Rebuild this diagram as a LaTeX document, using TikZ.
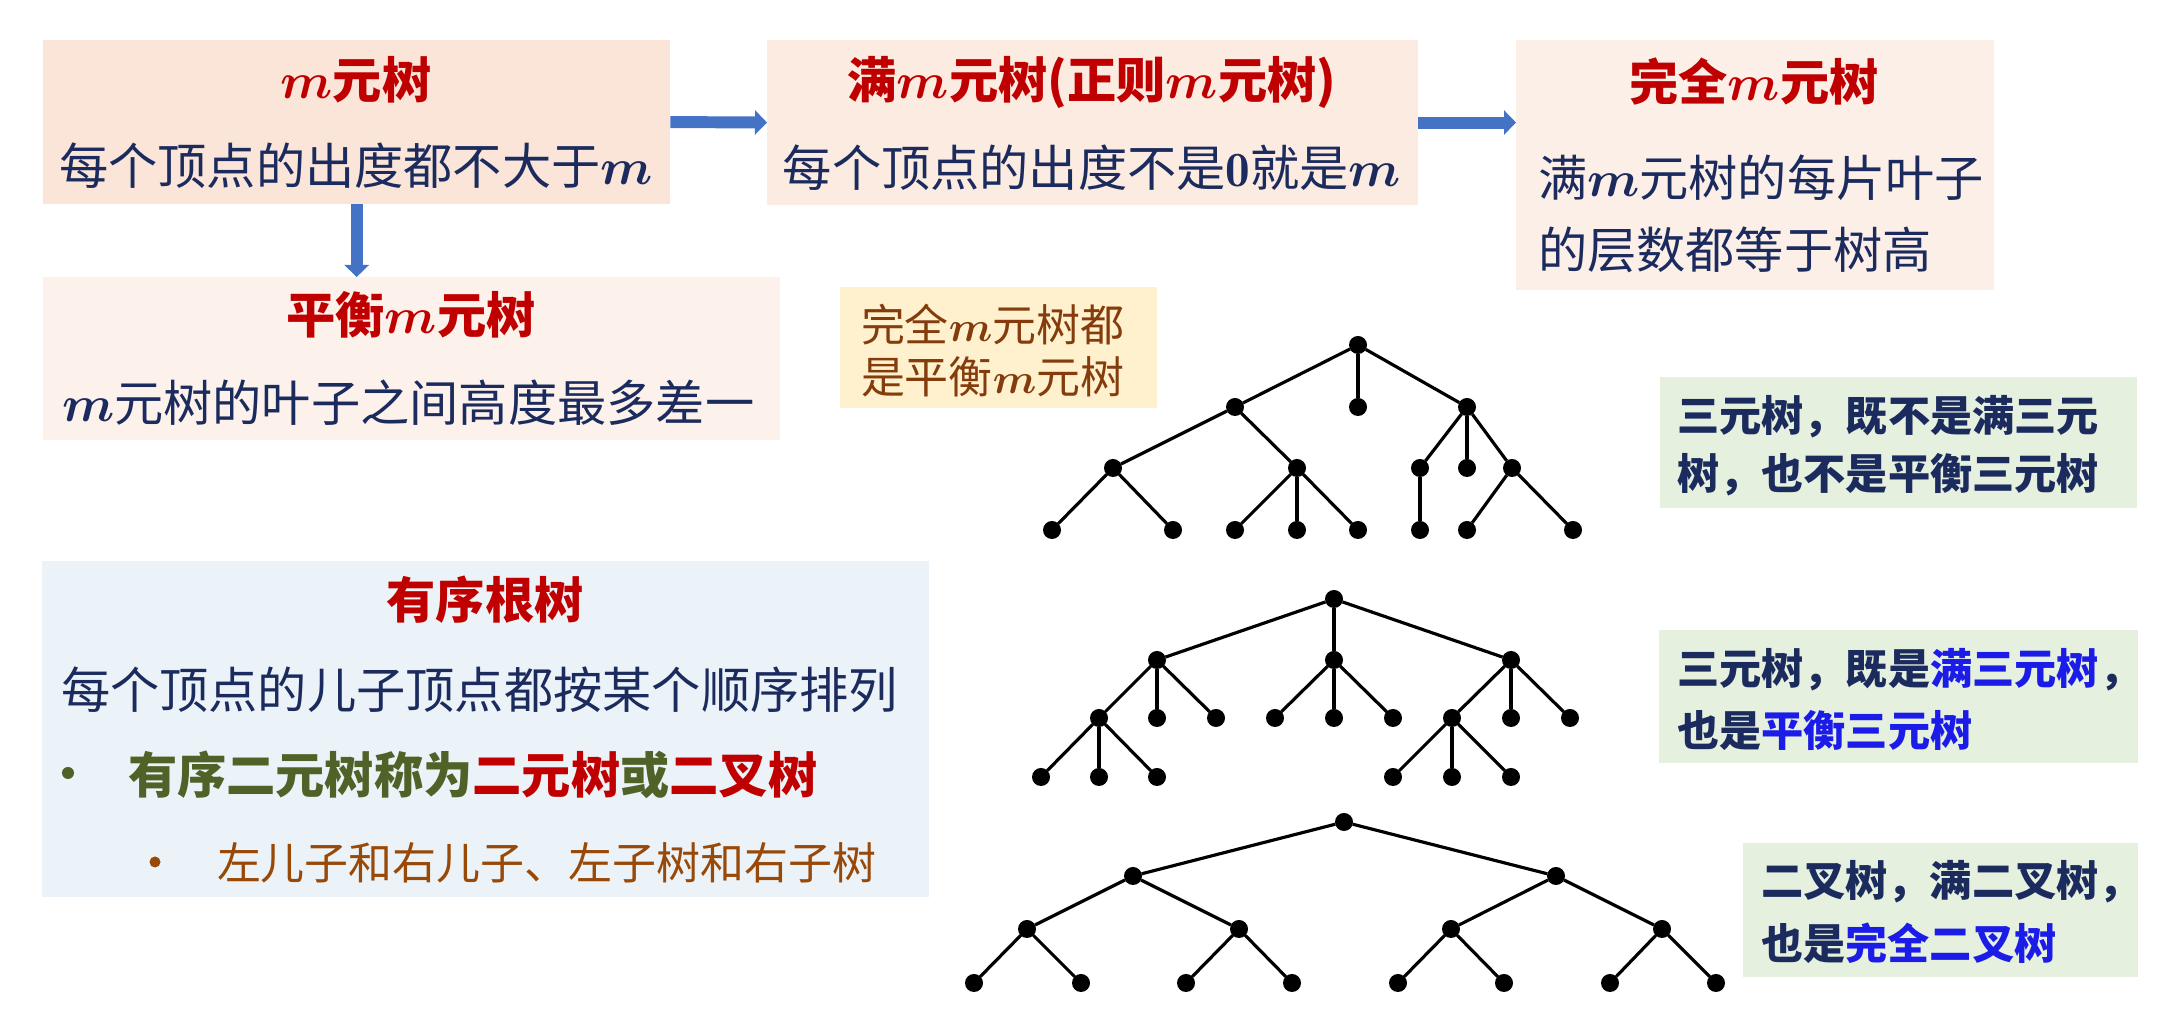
\documentclass[tikz,border=0pt]{standalone}
\usepackage{fontspec}
\usepackage{amsmath}
\newfontfamily\cjk{Noto Sans CJK SC}
\usetikzlibrary{arrows.meta}
\definecolor{tred}{HTML}{C00000}
\definecolor{tnavy}{HTML}{1B2B5E}
\definecolor{tbrown}{HTML}{843C0C}
\definecolor{tgreen}{HTML}{4F6228}
\definecolor{torange}{HTML}{984807}
\definecolor{tblue}{HTML}{1C1CE8}
\definecolor{arrblue}{HTML}{4472C4}
\definecolor{peachA}{HTML}{FAE5D8}
\definecolor{peachB}{HTML}{FCEBE1}
\definecolor{peachC}{HTML}{FCEFE8}
\definecolor{peachD}{HTML}{FDF2EB}
\definecolor{creamE}{HTML}{FFF1CE}
\definecolor{blueF}{HTML}{ECF3F8}
\definecolor{greenG}{HTML}{E6F0DE}
\newcommand\mv{$\boldsymbol{m}$}

\begin{document}
\begin{tikzpicture}
  [x=0.01cm,y=-0.01cm,
   every node/.style={inner sep=0,outer sep=0,font=\cjk},
   box/.style={anchor=north west},
   title/.style={text=tred,font=\cjk\bfseries\fontsize{14}{16}\selectfont},
   body/.style={text=tnavy,font=\cjk\fontsize{14}{16}\selectfont},
   note/.style={text=tnavy,font=\cjk\bfseries\fontsize{12}{14}\selectfont,anchor=west},
   dot/.style={circle,fill=black,minimum size=0.18cm},
   bullet/.style={circle,minimum size=0.12cm},
   edge/.style={line width=0.9pt},
   barrow/.style={draw=arrblue,line width=3.4pt,-{Triangle[length=0.12cm,width=0.24cm]}}]
  \useasboundingbox (0,0) rectangle (2162,1022);

  \node[box,fill=peachA,minimum width=6.27cm,minimum height=1.64cm] (mt) at (43,40) {};
  \node[box,fill=peachB,minimum width=6.51cm,minimum height=1.65cm] (fmt) at (767,40) {};
  \node[box,fill=peachC,minimum width=4.78cm,minimum height=2.50cm] (cmt) at (1516,40) {};
  \node[box,fill=peachD,minimum width=7.37cm,minimum height=1.63cm] (bmt) at (43,277) {};
  \node[box,fill=creamE,minimum width=3.17cm,minimum height=1.21cm] (rem) at (840,287) {};
  \node[box,fill=blueF,minimum width=8.86cm,minimum height=3.36cm] (ord) at (42,561) {};
  \node[box,fill=greenG,minimum width=4.77cm,minimum height=1.31cm] (ga) at (1660,377) {};
  \node[box,fill=greenG,minimum width=4.79cm,minimum height=1.33cm] (gb) at (1659,630) {};
  \node[box,fill=greenG,minimum width=3.95cm,minimum height=1.34cm] (gc) at (1743,843) {};

  \draw[barrow] (mt.east) -- (fmt.west);
  \draw[barrow] (fmt.east) -- (fmt.east -| cmt.west);
  \draw[barrow] (mt.south) -- (mt.south |- bmt.north);

  \node[title] (mt-t) at (356,80) {\mv 元树};
  \node[body] (mt-b) at (356,166) {每个顶点的出度都不大于\mv};
  \node[title] (fmt-t) at (1092,82) {满\mv 元树(正则\mv 元树)};
  \node[body] (fmt-b) at (1092,168) {每个顶点的出度不是$\mathbf{0}$就是\mv};
  \node[title] (cmt-t) at (1754,82) {完全\mv 元树};
  \node[body,anchor=west] (cmt-b1) at (1538,178) {满\mv 元树的每片叶子};
  \node[body,anchor=west] (cmt-b2) at (1538,250) {的层数都等于树高};
  \node[title] (bmt-t) at (411,315) {平衡\mv 元树};
  \node[body,anchor=west] (bmt-b) at (62,403) {\mv 元树的叶子之间高度最多差一};
  \node[text=tbrown,font=\cjk\fontsize{12.5}{14}\selectfont,anchor=west] (rem-1) at (861,325) {完全\mv 元树都};
  \node[text=tbrown,font=\cjk\fontsize{12.5}{14}\selectfont,anchor=west] (rem-2) at (861,377) {是平衡\mv 元树};

  \node[title] (ord-t) at (485,600) {有序根树};
  \node[body,anchor=west] (ord-b) at (61,690) {每个顶点的儿子顶点都按某个顺序排列};
  \node[bullet,fill=tgreen] (ord-d1) at (68,773) {};
  \node[text=tgreen,font=\cjk\bfseries\fontsize{14}{16}\selectfont,anchor=west] (ord-l1) at (128,775)
    {有序二元树称为\textcolor{tred}{二元树}或\textcolor{tred}{二叉树}};
  \node[bullet,fill=torange,minimum size=0.11cm] (ord-d2) at (155,862) {};
  \node[text=torange,font=\cjk\fontsize{12.5}{14}\selectfont,anchor=west] (ord-l2) at (217,863)
    {左儿子和右儿子、左子树和右子树};

  \node[note] (ga-1) at (1677,417) {三元树，既不是满三元};
  \node[note] (ga-2) at (1677,475) {树，也不是平衡三元树};
  \node[note] (gb-1) at (1677,670) {三元树，既是\textcolor{tblue}{满三元树}，};
  \node[note] (gb-2) at (1677,730) {也是\textcolor{tblue}{平衡三元树}};
  \node[note] (gc-1) at (1761,882) {二叉树，满二叉树，};
  \node[note] (gc-2) at (1761,943) {也是\textcolor{tblue}{完全二叉树}};

  \foreach \n/\x/\y in {a0/1358/345,a1/1235/407,a2/1358/407,a3/1467/407,
      a4/1113/468,a5/1297/468,a6/1420/468,a7/1467/468,a8/1512/468,
      a9/1052/530,a10/1173/530,a11/1235/530,a12/1297/530,a13/1358/530,
      a14/1420/530,a15/1467/530,a16/1573/530}
    \node[dot] (\n) at (\x,\y) {};
  \foreach \from/\to in {a0/a1,a0/a2,a0/a3,a1/a4,a1/a5,a3/a6,a3/a7,a3/a8,
      a4/a9,a4/a10,a5/a11,a5/a12,a5/a13,a6/a14,a8/a15,a8/a16}
    \draw[edge] (\from) -- (\to);

  \foreach \n/\x/\y in {b0/1334/599,b1/1157/660,b2/1334/660,b3/1511/660,
      b4/1099/718,b5/1157/718,b6/1216/718,b7/1275/718,b8/1334/718,
      b9/1393/718,b10/1452/718,b11/1511/718,b12/1570/718,
      b13/1041/777,b14/1099/777,b15/1157/777,b16/1393/777,b17/1452/777,b18/1511/777}
    \node[dot] (\n) at (\x,\y) {};
  \foreach \from/\to in {b0/b1,b0/b2,b0/b3,b1/b4,b1/b5,b1/b6,b2/b7,b2/b8,b2/b9,
      b3/b10,b3/b11,b3/b12,b4/b13,b4/b14,b4/b15,b10/b16,b10/b17,b10/b18}
    \draw[edge] (\from) -- (\to);

  \foreach \n/\x/\y in {c0/1344/822,c1/1133/876,c2/1556/876,
      c3/1027/929,c4/1239/929,c5/1451/929,c6/1662/929,
      c7/974/983,c8/1081/983,c9/1186/983,c10/1292/983,
      c11/1398/983,c12/1504/983,c13/1610/983,c14/1716/983}
    \node[dot] (\n) at (\x,\y) {};
  \foreach \from/\to in {c0/c1,c0/c2,c1/c3,c1/c4,c2/c5,c2/c6,
      c3/c7,c3/c8,c4/c9,c4/c10,c5/c11,c5/c12,c6/c13,c6/c14}
    \draw[edge] (\from) -- (\to);

\end{tikzpicture}
\end{document}
